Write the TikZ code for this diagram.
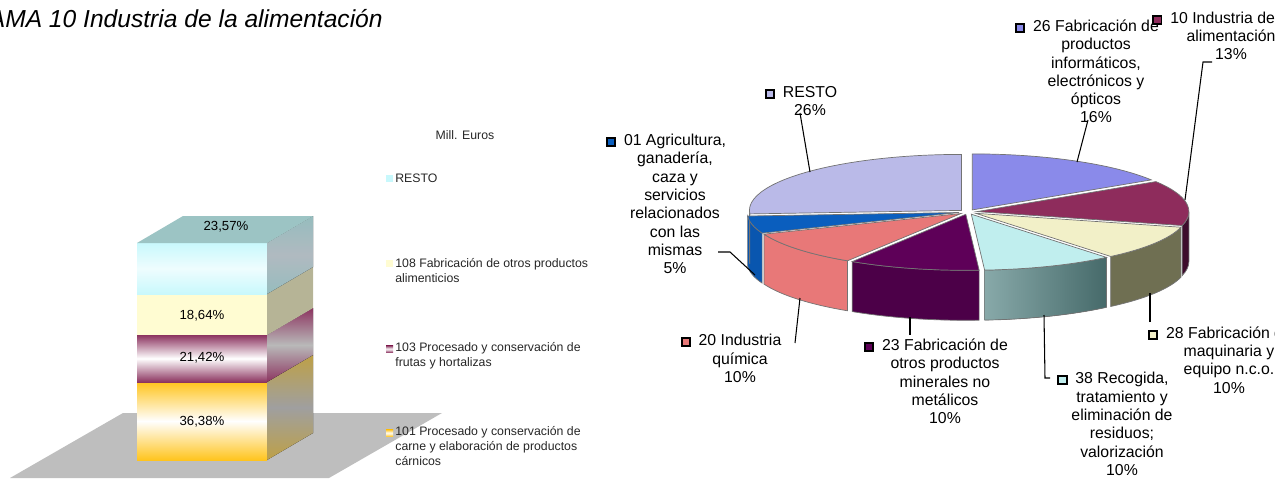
\documentclass[tikz,border=0pt]{standalone}
\usepackage{fontspec}
\setmainfont{Liberation Sans}
\usetikzlibrary{calc}
\definecolor{RestoColor}{RGB}{186,186,232}
\definecolor{AgriColor}{RGB}{10,94,190}
\definecolor{InfoColor}{RGB}{138,138,234}
\definecolor{AlimColor}{RGB}{142,44,92}
\definecolor{MaqColor}{RGB}{242,240,200}
\definecolor{ResidColor}{RGB}{192,238,238}
\definecolor{MinColor}{RGB}{94,0,88}
\definecolor{QuimColor}{RGB}{232,120,120}
\definecolor{AlimWall}{RGB}{62,12,44}
\definecolor{MaqWall}{RGB}{111,111,82}
\definecolor{ResidWallA}{RGB}{143,176,176}
\definecolor{ResidWallB}{RGB}{70,106,106}
\definecolor{MinWall}{RGB}{76,0,72}
\definecolor{BarCyan}{RGB}{200,248,252}
\definecolor{BarYellow}{RGB}{255,252,210}
\definecolor{BarMaroon}{RGB}{140,52,96}
\definecolor{BarGold}{RGB}{255,196,30}
\definecolor{BarTop}{RGB}{156,196,196}
\definecolor{SideGold}{RGB}{190,160,70}
\definecolor{SideYellow}{RGB}{182,180,150}
\definecolor{SideCyanA}{RGB}{150,188,190}
\definecolor{SideCyanB}{RGB}{176,186,192}
\definecolor{FloorGray}{RGB}{190,190,190}
\tikzstyle{pielabel} = [align=center, inner sep=0pt, font=\fontsize{9}{10.4}\selectfont]
\tikzstyle{legendtext} = [align=left, anchor=west, inner sep=0pt, text=black!85, font=\fontsize{7}{8.5}\selectfont]
\tikzstyle{legendkey} = [rectangle, inner sep=0pt, minimum size=7*0.02cm]
\tikzstyle{barlabel} = [inner sep=0pt, font=\fontsize{7.5}{9}\selectfont]
\tikzstyle{leader} = [black, line width=0.6pt]
\tikzstyle{rim} = [draw=black!55, line width=0.4pt]
\newcommand{\keybox}[1]{\llap{\raisebox{0.3pt}{\fboxsep=0pt\fboxrule=1.1pt\fcolorbox{black}{#1}{\rule{0pt}{3.5pt}\rule{3.5pt}{0pt}}}\hspace{4.5pt}}}
\newcommand{\slicetop}[4]{\filldraw[rim, fill=#4] ($(pc)+#3$) -- ++(#1:212 and 56) arc[start angle=#1, end angle=#2, x radius=212, y radius=56] -- cycle;}
\newcommand{\slicewall}[4]{\filldraw[rim, #4] ($(pc)+#3$) ++(#1:212 and 56) arc[start angle=#1, end angle=#2, x radius=212, y radius=56] -- ++(0,-50) arc[start angle=#2, end angle=#1, x radius=212, y radius=56] -- cycle;}

\begin{document}
\begin{tikzpicture}[x=0.02cm, y=0.02cm]
    \useasboundingbox (0,0) rectangle (1275,478);
    \clip (0,0) rectangle (1275,478);

    % Title
    \node[anchor=base east, inner sep=0pt, font=\fontsize{14}{16}\selectfont\itshape] (title) at (383,451) {AMA 10 Industria de la alimentación};

    % Stacked bar
    \fill[FloorGray] (10,0) -- (123,65) -- (442,65) -- (329,0) -- cycle;
    \fill[top color=BarGold, bottom color=BarGold, middle color=white] (137,18) rectangle (267,96);
    \fill[top color=BarMaroon, bottom color=BarMaroon, middle color=white] (137,96) rectangle (267,143);
    \fill[BarYellow] (137,143) rectangle (267,184);
    \fill[top color=BarCyan, bottom color=BarCyan, middle color=white!70!BarCyan] (137,184) rectangle (267,235);
    \fill[top color=SideGold, bottom color=SideGold, middle color=gray!75] (267,18) -- (313,45) -- (313,123) -- (267,96) -- cycle;
    \fill[top color=BarMaroon, bottom color=BarMaroon, middle color=gray!55] (267,96) -- (313,123) -- (313,170) -- (267,143) -- cycle;
    \fill[SideYellow] (267,143) -- (313,170) -- (313,211) -- (267,184) -- cycle;
    \fill[top color=SideCyanA, bottom color=SideCyanA, middle color=SideCyanB] (267,184) -- (313,211) -- (313,262) -- (267,235) -- cycle;
    \fill[BarTop] (137,235) -- (183,262) -- (313,262) -- (267,235) -- cycle;
    \node[barlabel] (v4) at (226,251) {23,57\%};
    \node[barlabel] (v3) at (202,162) {18,64\%};
    \node[barlabel] (v2) at (202,120) {21,42\%};
    \node[barlabel] (v1) at (202,56) {36,38\%};

    % Legend
    \node[legendtext, anchor=center] (lgunit) at (465,343) {Mill. Euros};
    \node[legendkey, fill=BarCyan] (kresto) at (389.5,299.5) {};
    \node[legendtext] (lgresto) at (395,300) {RESTO};
    \node[legendkey, fill=BarYellow] (k108) at (389.5,214.5) {};
    \node[legendtext] (lg108) at (395,207.5) {108 Fabricación de otros productos\\alimenticios};
    \node[legendkey, top color=BarMaroon, bottom color=BarMaroon, middle color=white] (k103) at (389.5,129) {};
    \node[legendtext] (lg103) at (395,122.5) {103 Procesado y conservación de\\frutas y hortalizas};
    \node[legendkey, top color=BarGold, bottom color=BarGold, middle color=white] (k101) at (389.5,45) {};
    \node[legendtext] (lg101) at (395,32) {101 Procesado y conservación de\\carne y elaboración de productos\\cárnicos};

    % Pie
    \coordinate (pc) at (968,266);
    \slicewall{0}{-14.4}{(8.9,0.4)}{fill=AlimWall}
    \slicewall{-14.4}{-50.4}{(7.6,-1.3)}{fill=MaqWall}
    \slicewall{-50.4}{-86.4}{(3.3,-2.2)}{left color=ResidWallA, right color=ResidWallB}
    \slicewall{-86.4}{-122.4}{(-2.2,-2.3)}{fill=MinWall}
    \slicewall{-122.4}{-158.4}{(-6.9,-1.5)}{fill=QuimColor}
    \slicewall{-158.4}{-176.4}{(-8.8,-0.5)}{fill=AgriColor!92!black}
    \slicewall{-176.4}{-180}{(-6.6,1.6)}{fill=RestoColor!80!black}
    \slicetop{90}{32.4}{(4.3,2.1)}{InfoColor}
    \slicetop{32.4}{-14.4}{(8.9,0.4)}{AlimColor}
    \slicetop{-14.4}{-50.4}{(7.6,-1.3)}{MaqColor}
    \slicetop{-50.4}{-86.4}{(3.3,-2.2)}{ResidColor}
    \slicetop{-86.4}{-122.4}{(-2.2,-2.3)}{MinColor}
    \slicetop{-122.4}{-158.4}{(-6.9,-1.5)}{QuimColor}
    \slicetop{-158.4}{-176.4}{(-8.8,-0.5)}{AgriColor}
    \slicetop{-176.4}{-270}{(-6.6,1.6)}{RestoColor}

    % Pie labels
    \node[pielabel] (lresto) at (810,377) {\keybox{RestoColor}RESTO\\26\%};
    \node[pielabel] (lagri) at (675,274) {\keybox{AgriColor}01 Agricultura,\\ganadería,\\caza y\\servicios\\relacionados\\con las\\mismas\\5\%};
    \node[pielabel] (linfo) at (1096,406.5) {\keybox{InfoColor}26 Fabricación de\\productos\\informáticos,\\electrónicos y\\ópticos\\16\%};
    \node[pielabel] (lalim) at (1231,442) {\keybox{AlimColor}10 Industria de la\\alimentación\\13\%};
    \node[pielabel] (lmaq) at (1229,118) {\keybox{MaqColor}28 Fabricación de\\maquinaria y\\equipo n.c.o.\\10\%};
    \node[pielabel] (lresid) at (1122,54) {\keybox{ResidColor}38 Recogida,\\tratamiento y\\eliminación de\\residuos;\\valorización\\10\%};
    \node[pielabel] (lmin) at (945,96.5) {\keybox{MinColor}23 Fabricación de\\otros productos\\minerales no\\metálicos\\10\%};
    \node[pielabel] (lquim) at (740,119.5) {\keybox{QuimColor}20 Industria\\química\\10\%};

    % Leader lines
    \coordinate (eresto) at (810,306);
    \coordinate (eagri) at (755,203);
    \coordinate (einfo) at (1077,316);
    \coordinate (ealim) at (1185,278);
    \coordinate (emaq) at (1150,185);
    \coordinate (eresid) at (1044,163);
    \coordinate (emin) at (910,161);
    \coordinate (equim) at (800,180);
    \draw[leader] ($(lresto)+(-10,-12)$) -- (eresto);
    \draw[leader] ($(lagri)+(43,-48)$) -- ++(12,0) -- (eagri);
    \draw[leader] ($(linfo)+(-8,-48.5)$) -- (einfo);
    \draw[leader] ($(lalim)+(-19,-26)$) -- ++(-9,0) -- (ealim);
    \draw[leader] ($(lmaq)+(-79,38)$) -- (emaq);
    \draw[leader] ($(lresid)+(-72,46)$) -- ++(-5,0) -- (eresid);
    \draw[leader] ($(lmin)+(-35,46.5)$) -- (emin);
    \draw[leader] ($(lquim)+(55,15.5)$) -- (equim);
\end{tikzpicture}
\end{document}
